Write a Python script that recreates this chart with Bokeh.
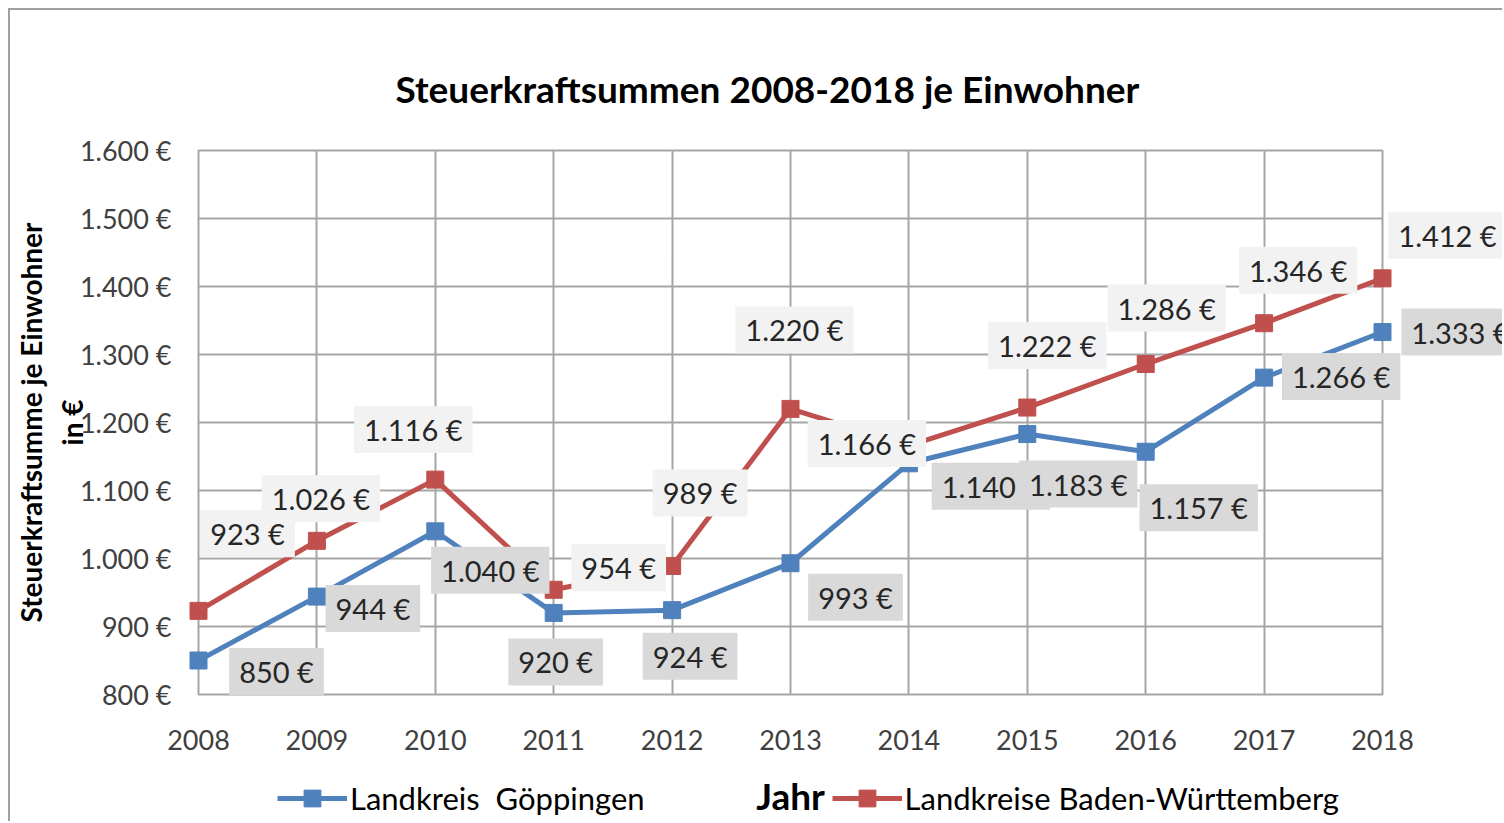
from bokeh.plotting import figure
from bokeh.layouts import column
from bokeh.models import FixedTicker, Legend, LegendItem, ColumnDataSource
from bokeh.core.properties import value
from bokeh.embed import file_html
from bokeh.resources import INLINE

years = [2008, 2009, 2010, 2011, 2012, 2013, 2014, 2015, 2016, 2017, 2018]
goeppingen = [850, 944, 1040, 920, 924, 993, 1140, 1183, 1157, 1266, 1333]
baden_wuerttemberg = [923, 1026, 1116, 954, 989, 1220, 1166, 1222, 1286, 1346, 1412]
y_ticks = [800, 900, 1000, 1100, 1200, 1300, 1400, 1500, 1600]
y_tick_labels = ["800 €", "900 €", "1.000 €", "1.100 €", "1.200 €", "1.300 €", "1.400 €", "1.500 €", "1.600 €"]
x_tick_labels = ["2008", "2009", "2010", "2011", "2012", "2013", "2014", "2015", "2016", "2017", "2018"]
x_axis_title = "Jahr"
series_names = ["Landkreis  Göppingen", "Landkreise Baden-Württemberg"]

# label placement offsets in screen pixels (dx right, dy down)
bw_label_dx = [49, 4, -22, 65, 28, 4, -42, 20, 21, 34, 65]
bw_label_dy = [-77, -42, -50, -22, -73, -79, -2, -62, -56, -53, -43]
goe_label_dx = [78, 56, 55, 2, 18, 65, 82, 51, 53, 77, 78]
goe_label_dy = [11, 12, 39, 49, 46, 34, 23, 50, 56, -1, 0]

BLUE = "#4f81bd"
RED = "#c0504d"
GRID = "#a6a6a6"
FONT = "Lato"
W = 1492


def euro(v):
    return f"{v:,}".replace(",", ".") + " €"


p = figure(width=W, height=759, output_backend="svg", toolbar_location=None,
           x_range=(years[0], years[-1]), y_range=(y_ticks[0], y_ticks[-1]),
           min_border_left=188, min_border_right=120, min_border_top=140, min_border_bottom=75,
           title="Steuerkraftsummen 2008-2018 je Einwohner")

p.title.align = "left"
p.title.offset = 197
p.title.text_font = FONT
p.title.text_font_style = "bold"
p.title.text_font_size = "37px"
p.title.text_color = "#000000"
p.title.standoff = 80

p.outline_line_color = GRID
p.outline_line_width = 2
p.xgrid.grid_line_color = GRID
p.ygrid.grid_line_color = GRID
p.xgrid.grid_line_width = 2
p.ygrid.grid_line_width = 2

p.xaxis.ticker = FixedTicker(ticks=years)
p.xaxis.major_label_overrides = dict(zip(years, x_tick_labels))
p.yaxis.ticker = FixedTicker(ticks=y_ticks)
p.yaxis.major_label_overrides = dict(zip(y_ticks, y_tick_labels))
for ax in (p.xaxis, p.yaxis):
    ax.axis_line_color = None
    ax.major_tick_line_color = None
    ax.minor_tick_line_color = None
    ax.major_tick_out = 0
    ax.major_label_text_font = FONT
    ax.major_label_text_font_size = "27px"
    ax.major_label_text_color = "#404040"
    ax.axis_label_text_font = FONT
    ax.axis_label_text_font_style = "bold"
    ax.axis_label_text_color = "#000000"
p.yaxis.major_label_standoff = 27
p.xaxis.major_label_standoff = 35
p.yaxis.axis_label = "Steuerkraftsumme je Einwohner\nin €"
p.yaxis.axis_label_text_font_size = "28px"
p.yaxis.axis_label_standoff = -12

p.line(years, goeppingen, line_color=BLUE, line_width=5)
p.scatter(years, goeppingen, marker="square", size=17, fill_color=BLUE, line_color=BLUE, level="overlay")
p.line(years, baden_wuerttemberg, line_color=RED, line_width=5)
p.scatter(years, baden_wuerttemberg, marker="square", size=17, fill_color=RED, line_color=RED, level="overlay")

for vals, dxs, dys, bg in ((baden_wuerttemberg, bw_label_dx, bw_label_dy, "#f2f2f2"),
                           (goeppingen, goe_label_dx, goe_label_dy, "#d9d9d9")):
    src = ColumnDataSource(dict(x=years, y=vals, text=[euro(v) for v in vals], dx=dxs, dy=dys))
    p.text(x="x", y="y", text="text", x_offset="dx", y_offset="dy", source=src,
           text_align="center", text_baseline="middle",
           text_font=value(FONT), text_font_size="29px", text_color="#262626",
           background_fill_color=bg, padding=dict(x=10, y=6), level="overlay")

# bottom strip: x axis title and legend, aligned to the same x range as the chart
q = figure(width=W, height=52, output_backend="svg", toolbar_location=None,
           x_range=p.x_range, y_range=(0, 1), x_axis_type=None, y_axis_type=None,
           min_border_left=188, min_border_right=120, min_border_top=0, min_border_bottom=0)
q.grid.visible = False
q.outline_line_color = None

q.text(x=[(years[0] + years[-1]) / 2], y=[0.5], text=[x_axis_title],
       text_align="center", text_baseline="middle",
       text_font=value(FONT), text_font_style="bold", text_font_size="37px", text_color="#000000")

# key renderers carry the same series (they fall outside this strip's range, only the legend shows)
key_goe_l = q.line(years, goeppingen, line_color=BLUE, line_width=5)
key_goe_s = q.scatter(years, goeppingen, marker="square", size=17, fill_color=BLUE, line_color=BLUE)
key_bw_l = q.line(years, baden_wuerttemberg, line_color=RED, line_width=5)
key_bw_s = q.scatter(years, baden_wuerttemberg, marker="square", size=17, fill_color=RED, line_color=RED)

legend = Legend(items=[LegendItem(label=series_names[0], renderers=[key_goe_l, key_goe_s]),
                       LegendItem(label=series_names[1], renderers=[key_bw_l, key_bw_s])],
                location=(79, 2), orientation="horizontal", spacing=187,
                glyph_width=70, glyph_height=42, label_standoff=3, padding=0, margin=0,
                border_line_color=None, background_fill_alpha=0,
                label_text_font=FONT, label_text_font_size="31px", label_text_color="#000000")
q.add_layout(legend)

layout = column(p, q, spacing=0,
                styles={"border-top": "2px solid #a0a0a0", "border-left": "2px solid #a0a0a0",
                        "margin-left": "8px", "margin-top": "8px"})

open("out.html", "w").write(file_html(layout, INLINE))
